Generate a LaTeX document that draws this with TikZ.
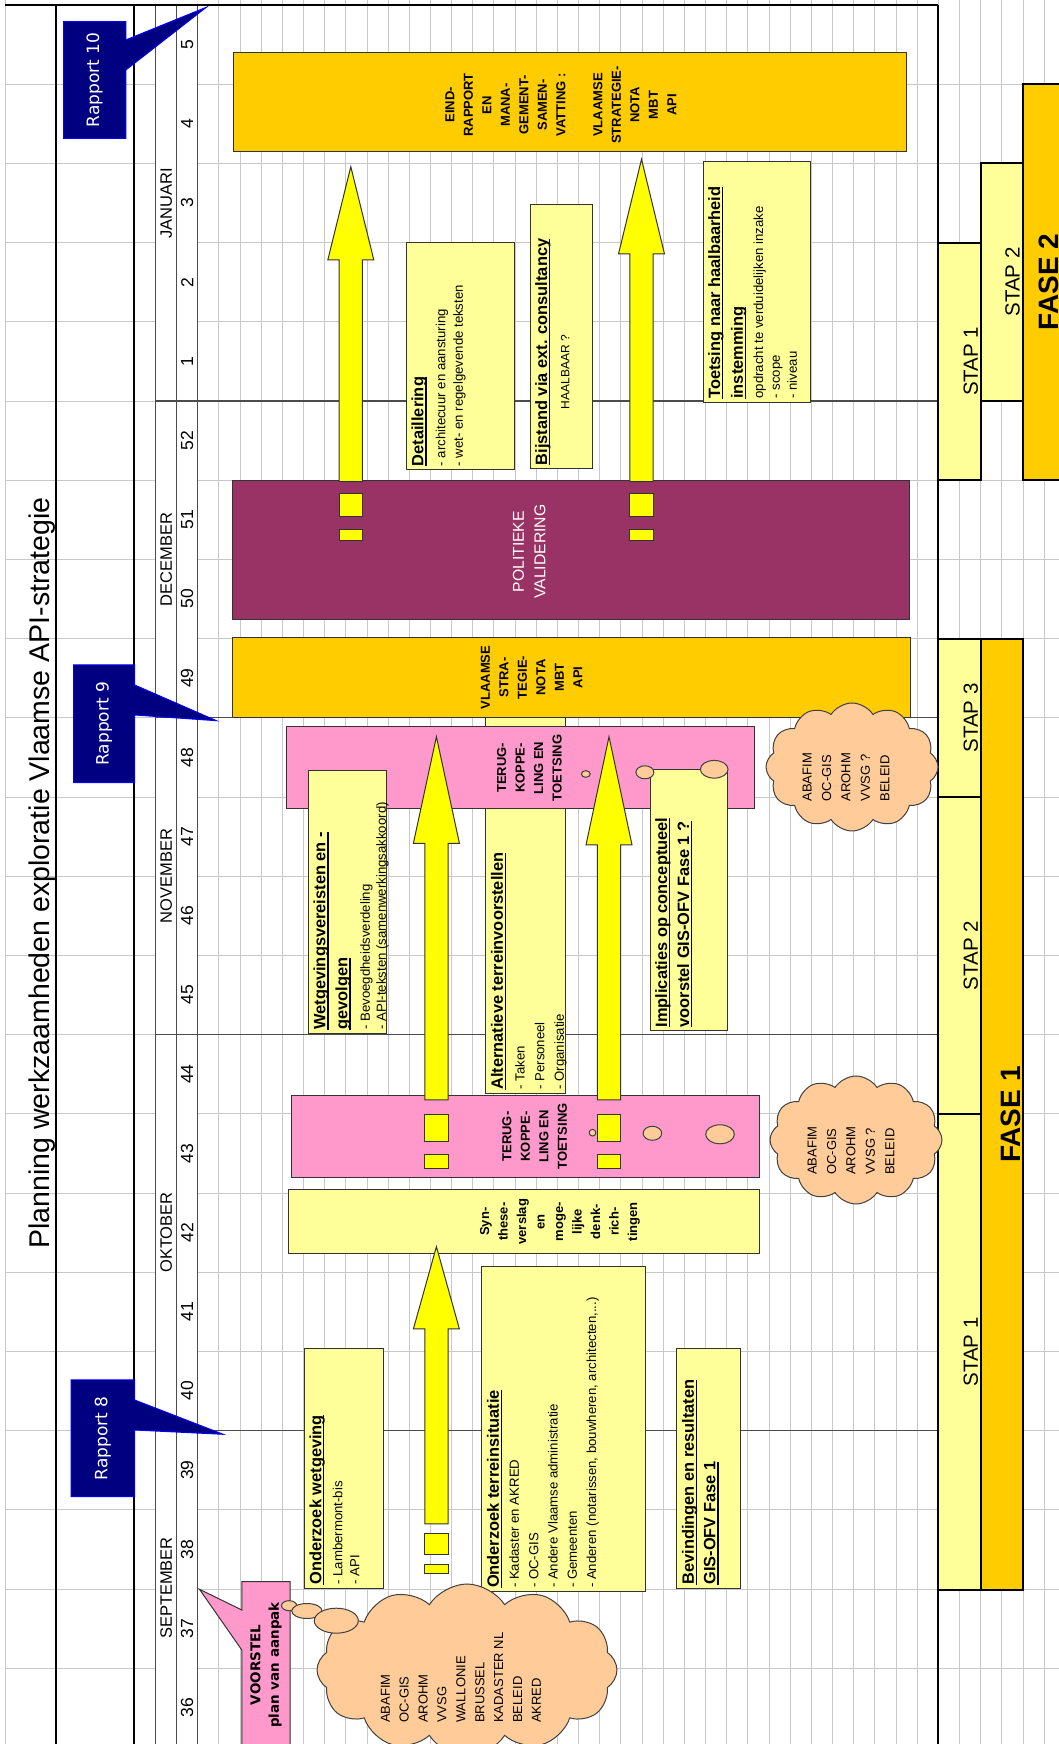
\documentclass[tikz,border=0pt]{standalone}
\usepackage{fontspec}
\setmainfont{Liberation Sans}
\newfontfamily\verdana{DejaVu Sans}
\usepackage{tikz}
\usetikzlibrary{shapes.geometric,shapes.symbols}

\definecolor{lichtgeel}{HTML}{FFFF99}
\definecolor{felgeel}{HTML}{FFFF00}
\definecolor{oranje}{HTML}{FFCC00}
\definecolor{roze}{HTML}{FF99CC}
\definecolor{paars}{HTML}{993366}
\definecolor{perzik}{HTML}{FFCC99}
\definecolor{navy}{HTML}{000080}
\definecolor{rasterkleur}{HTML}{C8C8C8}

\newcommand{\onderlijn}[1]{\setbox0=\hbox{#1}\rlap{\rule[-3.2pt]{\wd0}{1.2pt}}\box0}
\newcommand{\kopletter}{\bfseries\fontsize{16.4}{18.5}\selectfont}

\begin{document}
\begin{tikzpicture}[
  x=1pt, y=1pt,
  raster/.style={draw=rasterkleur, line width=0.9pt},
  grijslijn/.style={draw=black!70, line width=1.2pt},
  diklijn/.style={draw=black, line width=2pt},
  vak/.style={draw=black!80, line width=1pt, inner sep=0pt, outer sep=0pt, anchor=south west},
  geelvak/.style={vak, fill=lichtgeel},
  oranjevak/.style={vak, fill=oranje},
  rozevak/.style={vak, fill=roze},
  paarsvak/.style={vak, fill=paars},
  stapvak/.style={vak, fill=lichtgeel, draw=black, line width=2pt},
  fasevak/.style={vak, fill=oranje, draw=black, line width=2pt},
  pijl/.style={fill=felgeel, draw=black!80, line width=1pt},
  ballon/.style={fill=navy, draw=blue, line width=1pt},
  wolk/.style={cloud, cloud puffs=12, cloud puff arc=115, cloud ignores aspect, fill=perzik, draw=black!75, line width=1pt, inner sep=0pt},
  bel/.style={ellipse, fill=perzik, draw=black!75, line width=1pt, inner sep=0pt},
  kop/.style={anchor=north west, inner xsep=3.5pt, inner ysep=5pt, align=left, font=\fontsize{13.2}{18.5}\selectfont},
  blok/.style={align=center, inner sep=0pt, font=\bfseries\fontsize{13}{18.5}\selectfont},
  maandtekst/.style={font=\fontsize{16.5}{18}\selectfont},
  weektekst/.style={font=\fontsize{17.5}{18}\selectfont},
  staptekst/.style={anchor=base, font=\fontsize{20.5}{22}\selectfont},
  fasetekst/.style={anchor=base, font=\bfseries\fontsize{28}{30}\selectfont},
  rapporttekst/.style={text=white, font=\verdana\fontsize{17}{20}\selectfont},
  wolktekst/.style={anchor=north west, inner sep=0pt, align=left, font=\fontsize{13}{19.4}\selectfont}
]
\path[use as bounding box] (0,0) rectangle (1059,1744);
\clip (0,0) rectangle (1059,1744);
\fill[white] (0,0) rectangle (1059,1744);

\begin{scope}[shift={(1059,0)}, rotate=90, transform shape]
% raster
\foreach \j in {1,...,21} {
  \draw[raster] ({79.2*\j-3.4},0) -- ({79.2*\j-3.4},861.3);
  \draw[raster] ({79.2*\j-3.4},903.3) -- ({79.2*\j-3.4},1054);
}
\foreach \k in {1,...,41}
  \draw[raster] (0,{861.3-21.16*\k}) -- (1744,{861.3-21.16*\k});
\draw[raster] (0,1054) -- (1744,1054);
\foreach \y in {861.3,882.3,903.3}
  \draw[grijslijn] (0,\y) -- (1739,\y);
\foreach \x in {313.4,709.4,1026.2,1343}
  \draw[grijslijn] (\x,120.7) -- (\x,903.3);
\foreach \y in {1003.2,925,120.7}
  \draw[diklijn] (0,\y) -- (1739,\y);
\draw[diklijn] (1739,120.7) -- (1739,1054);

% kop
\node[anchor=base, font=\fontsize{28.5}{30}\selectfont] (titel) at (871,1009) {Planning werkzaamheden exploratie Vlaamse API-strategie};
\foreach \x/\m in {156/SEPTEMBER, 511.4/OKTOBER, 867.8/NOVEMBER, 1184.6/DECEMBER, 1541/JANUARI}
  \node[maandtekst] (m-\m) at (\x,892.8) {\m};
\foreach \w [count=\j from 0] in {36,37,38,39,40,41,42,43,44,45,46,47,48,49,50,51,52,1,2,3,4,5}
  \node[weektekst] (w-\w) at ({79.2*\j+36.2},871.8) {\w};

% vakken
\node[geelvak, minimum width=375.6pt, minimum height=79.8pt] (alternatief) at (650.7,493.5) {};
\node[rozevak, minimum width=81.6pt, minimum height=468.5pt] (terug48) at (935.7,304.2) {};
\node[rozevak, minimum width=81.6pt, minimum height=468.4pt] (terug43) at (566.7,299.2) {};
\node[geelvak, minimum width=64pt, minimum height=471.5pt] (synthese) at (490,299.2) {};
\node[oranjevak, minimum width=99pt, minimum height=673pt] (eindrapport) at (1592.3,152.8) {};
\node[paarsvak, minimum width=139pt, minimum height=676.7pt] (politiek) at (1124,149.8) {};
\node[oranjevak, minimum width=80.4pt, minimum height=677.8pt] (strategienota) at (1026.3,148.7) {};
\node[geelvak, minimum width=240pt, minimum height=78.8pt] (wetgeving) at (155.7,676) {};
\node[geelvak, minimum width=325pt, minimum height=164.2pt] (terrein) at (152.3,413.1) {};
\node[geelvak, minimum width=240pt, minimum height=63.3pt] (bevindingen) at (155.7,319) {};
\node[geelvak, minimum width=227.3pt, minimum height=108.1pt] (detaillering) at (1274,544.6) {};
\node[geelvak, minimum width=264pt, minimum height=62.3pt] (bijstand) at (1275,466.7) {};
\node[geelvak, minimum width=240.6pt, minimum height=107.4pt] (toetsing) at (1341.7,248.5) {};

% pijlen
\foreach \yc/\xs/\xb/\xt in {622.6/220/415/497.3, 622.6/644/900.7/1007.3, 450/644/899/1007.3, 708.2/1262.3/1484/1577.3, 417.5/1262.3/1490/1584.7}
  \filldraw[pijl] (\xs,\yc-11.6) -- (\xb,\yc-11.6) -- (\xb,\yc-23) -- (\xt,\yc) -- (\xb,\yc+23) -- (\xb,\yc+11.6) -- (\xs,\yc+11.6) -- cycle;
\foreach \yc/\a/\b/\c/\d in {622.6/170/179/189/210, 622.6/575.7/589/602.3/629.7, 450/575.7/589/602.3/629.7, 708.2/1203/1214.7/1227.3/1250, 417.5/1203/1214.7/1227.3/1250} {
  \filldraw[pijl] (\a,\yc-11.6) rectangle (\b,\yc+11.6);
  \filldraw[pijl] (\c,\yc-11.6) rectangle (\d,\yc+11.6);
}

\node[geelvak, minimum width=262.3pt, minimum height=78pt] (vereisten) at (710.7,672.7) {};
\node[geelvak, minimum width=261.7pt, minimum height=77.7pt] (implicaties) at (713,331.3) {};

% stappen en fasen
\node[stapvak, minimum width=475.7pt, minimum height=42.3pt] (stapA1) at (154,78.4) {};
\node[stapvak, minimum width=317.6pt, minimum height=42.3pt] (stapA2) at (629.7,78.4) {};
\node[stapvak, minimum width=157.4pt, minimum height=42.3pt] (stapA3) at (947.3,78.4) {};
\node[fasevak, minimum width=950.7pt, minimum height=42.3pt] (fase1) at (154,36.1) {};
\node[stapvak, minimum width=237.3pt, minimum height=42.3pt] (stapB1) at (1264,78.4) {};
\node[stapvak, minimum width=237.7pt, minimum height=42.3pt] (stapB2) at (1343,36.1) {};
\node[fasevak, minimum width=395.7pt, minimum height=42.4pt] (fase2) at (1264,-6.3) {};
\node[staptekst] (stapA1-t) at (391.9,81.2) {STAP 1};
\node[staptekst] (stapA2-t) at (788.5,81.2) {STAP 2};
\node[staptekst] (stapA3-t) at (1026,81.2) {STAP 3};
\node[fasetekst] (fase1-t) at (629.4,38.9) {FASE 1};
\node[staptekst] (stapB1-t) at (1382.7,81.2) {STAP 1};
\node[staptekst] (stapB2-t) at (1461.9,39.5) {STAP 2};
\node[fasetekst] (fase2-t) at (1461.9,1) {FASE 2};

% rapporten
\filldraw[ballon] (1605.7,933.2) -- (1674,933.2) -- (1736.7,852.7) -- (1704,933.2) -- (1722.3,933.2) -- (1722.3,995.4) -- (1605.7,995.4) -- cycle;
\node[rapporttekst] (rapport10) at (1664,964.3) {Rapport 10};
\filldraw[ballon] (961.3,924.4) -- (1029,924.4) -- (1023.3,842.6) -- (1059,924.4) -- (1079,924.4) -- (1079,985.3) -- (961.3,985.3) -- cycle;
\node[rapporttekst] (rapport9) at (1020.2,954.9) {Rapport 9};
\filldraw[ballon] (247.3,924.4) -- (314,924.4) -- (309.7,835.9) -- (344,924.4) -- (364,924.4) -- (364,988) -- (247.3,988) -- cycle;
\node[rapporttekst] (rapport8) at (305.7,956.2) {Rapport 8};

% voorstel
\filldraw[fill=roze, draw=black!80, line width=1pt] (-2,768.9) -- (162.3,768.9) -- (162.3,817.2) -- (134,817.2) -- (154.7,859.5) -- (94,817.2) -- (-2,817.2) -- cycle;
\node[align=center, font=\verdana\bfseries\fontsize{13.5}{18.6}\selectfont] (voorstel) at (79,793) {VOORSTEL\\plan van aanpak};

% wolken
\node[wolk, minimum width=172pt, minimum height=300pt] (wolk1) at (74,592) {};
\node[wolk, minimum width=128pt, minimum height=172pt] (wolk2) at (604,203) {};
\node[wolk, minimum width=128pt, minimum height=172pt] (wolk3) at (977,207) {};
\node[bel, minimum width=10pt, minimum height=15.2pt] (bel1a) at (138.3,769.9) {};
\node[bel, minimum width=15pt, minimum height=30.4pt] (bel1b) at (133,752.1) {};
\node[bel, minimum width=25pt, minimum height=44pt] (bel1c) at (123.3,722.7) {};
\node[bel, minimum width=6.7pt, minimum height=6.8pt] (bel2a) at (611.3,466.5) {};
\node[bel, minimum width=14pt, minimum height=18.6pt] (bel2b) at (610.7,406.6) {};
\node[bel, minimum width=19pt, minimum height=28.7pt] (bel2c) at (609.7,339) {};
\node[bel, minimum width=6.7pt, minimum height=8.8pt] (bel3a) at (970,473.2) {};
\node[bel, minimum width=13pt, minimum height=18pt] (bel3b) at (971.7,414.1) {};
\node[bel, minimum width=17.7pt, minimum height=27.7pt] (bel3c) at (974.7,344.8) {};
\node[wolktekst, font=\fontsize{13}{18.9}\selectfont] (wolk1-t) at (21,678.4) {ABAFIM\\OC-GIS\\AROHM\\VVSG\\WALLONIE\\BRUSSEL\\KADASTER NL\\BELEID\\AKRED};
\node[wolktekst] (wolk2-t) at (569,251.5) {ABAFIM\\OC-GIS\\AROHM\\VVSG ?\\BELEID};
\node[wolktekst] (wolk3-t) at (942.3,256.5) {ABAFIM\\OC-GIS\\AROHM\\VVSG ?\\BELEID};

% teksten in de vakken
\node[blok] (eindrapport-t) at (1639,498.2) {EIND-\\RAPPORT\\EN\\MANA-\\GEMENT-\\SAMEN-\\VATTING :\\[18.5pt]VLAAMSE\\STRATEGIE-\\NOTA\\MBT\\API};
\node[blok, text=white, font=\fontsize{15.7}{21.7}\selectfont] (politiek-t) at (1192.3,529.8) {POLITIEKE\\VALIDERING};
\node[blok] (strategienota-t) at (1066.5,527.3) {VLAAMSE\\STRA-\\TEGIE-\\NOTA\\MBT\\API};
\node[blok] (terug48-t) at (976,529.5) {TERUG-\\KOPPE-\\LING EN\\TOETSING};
\node[blok] (terug43-t) at (607.5,524.4) {TERUG-\\KOPPE-\\LING EN\\TOETSING};
\node[blok] (synthese-t) at (522.3,499.1) {Syn-\\these-\\verslag\\en\\moge-\\lijke\\denk-\\rich-\\tingen};

\node[kop] (wetgeving-t) at (wetgeving.north west) {{\kopletter\onderlijn{Onderzoek wetgeving}}\\[2.5pt]- Lambermont-bis\\[-1.5pt]- API};
\node[kop] (terrein-t) at (terrein.north west) {{\kopletter\onderlijn{Onderzoek terreinsituatie}}\\[1.7pt]- Kadaster en AKRED\\[0.8pt]- OC-GIS\\[0.8pt]- Andere Vlaamse administratie\\[0.8pt]- Gemeenten\\[0.8pt]- Anderen (notarissen, bouwheren, architecten,...)};
\node[kop] (bevindingen-t) at (bevindingen.north west) {{\kopletter\onderlijn{Bevindingen en resultaten}}\\[3.2pt]{\kopletter\onderlijn{GIS-OFV Fase 1}}};
\node[kop] (vereisten-t) at (vereisten.north west) {{\kopletter\onderlijn{Wetgevingsvereisten en -}}\\[3.5pt]{\kopletter\onderlijn{gevolgen}}\\[4pt]- Bevoegdheidsverdeling\\[-2.5pt]- API-teksten (samenwerkingsakkoord)};
\node[kop] (alternatief-t) at (alternatief.north west) {{\kopletter\onderlijn{Alternatieve terreinvoorstellen}}\\[3.4pt]- Taken\\[1.2pt]- Personeel\\[1.1pt]- Organisatie};
\node[kop] (implicaties-t) at (implicaties.north west) {{\kopletter\onderlijn{Implicaties op conceptueel}}\\[3.5pt]{\kopletter\onderlijn{voorstel GIS-OFV Fase 1 ?}}};
\node[kop] (detaillering-t) at (detaillering.north west) {{\kopletter\onderlijn{Detaillering}}\\[3.5pt]- architecuur en aansturing\\[-0.9pt]- wet- en regelgevende teksten};
\node[kop] (bijstand-t) at (bijstand.north west) {{\kopletter\onderlijn{Bijstand via ext. consultancy}}\\[3.8pt]\hspace*{56pt}{\fontsize{12}{18.5}\selectfont HAALBAAR ?}};
\node[kop] (toetsing-t) at (toetsing.north west) {{\kopletter\onderlijn{Toetsing naar haalbaarheid}}\\[4.2pt]{\kopletter\onderlijn{instemming}}\\[1.8pt]opdracht te verduidelijken inzake\\[-1.7pt]- scope\\[-1.6pt]- niveau};
\end{scope}
\end{tikzpicture}
\end{document}
